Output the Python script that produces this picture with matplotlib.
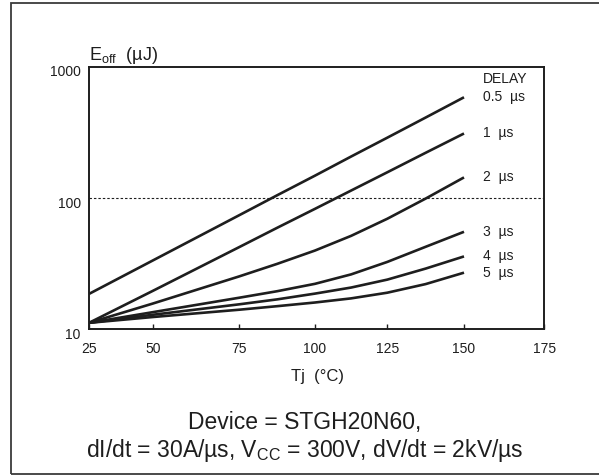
import matplotlib
matplotlib.use("Agg")
import matplotlib.pyplot as plt
import numpy as np
from matplotlib.patches import Rectangle
from matplotlib.ticker import NullLocator, FixedLocator
from matplotlib.transforms import ScaledTranslation

plt.rcParams['font.family'] = ['Liberation Sans', 'DejaVu Sans']

# the datasheet Tj axis is not evenly spaced -> map ticks to their drawn positions
tj_ticks = [25, 50, 75, 100, 125, 150, 175]
tick_pos = [89, 152.7, 239.3, 315, 387.3, 464, 544.3]

# data
tj = [25, 50, 75, 87.5, 100, 112.5, 125, 137.5, 150]
eoff_05us = [18.6, 33.4, 74.0, 104.9, 148, 207, 288, 410, 585]
eoff_1us = [11.2, 19.6, 42.3, 59.3, 82.7, 114, 157, 221, 310]
eoff_2us = [11.2, 15.7, 25.3, 31.5, 39.8, 51.5, 69.5, 99.0, 143.5]
eoff_3us = [11.2, 13.5, 17.4, 19.5, 22.2, 26.2, 32.6, 42.5, 55.3]
eoff_4us = [11.2, 12.9, 15.5, 16.9, 18.7, 20.8, 23.9, 29.0, 35.9]
eoff_5us = [11.2, 12.4, 14.1, 15.0, 16.0, 17.2, 19.0, 22.1, 27.0]
delay_labels = ["0.5  µs", "1  µs", "2  µs", "3  µs", "4  µs", "5  µs"]
series = [eoff_05us, eoff_1us, eoff_2us, eoff_3us, eoff_4us, eoff_5us]


def fwd(x):
    return np.interp(x, tj_ticks, tick_pos)


def inv(p):
    return np.interp(p, tick_pos, tj_ticks)


W, H = 599, 475
fig = plt.figure(figsize=(W / 100, H / 100), dpi=100)

# outer frame
fig.patches.append(Rectangle((11 / W, 1 / H), 1.05, 1 - 4.3 / H, transform=fig.transFigure,
                             fill=False, lw=1.3, ec="#3a3a3a", zorder=0))

ax = fig.add_axes([89 / W, 1 - 329.3 / H, (544.3 - 89) / W, (329.3 - 66.7) / H])
ax.set_xscale('function', functions=(fwd, inv))
ax.set_yscale('log')
ax.set_xlim(25, 175)
ax.set_ylim(10, 1000)

txt = "#1e1e1e"
for vals in series:
    ax.plot(tj, vals, color=txt, lw=1.9, solid_capstyle='butt', solid_joinstyle='round')

ax.axhline(100, color=txt, lw=0.8, ls=(0, (2.2, 1.8)))

for lab, vals in zip(delay_labels, series):
    ax.text(156, vals[-1], lab, va='center', ha='left', fontsize=10, color=txt)
ax.text(156, 805, "DELAY", va='center', ha='left', fontsize=10, color=txt)

ax.xaxis.set_major_locator(FixedLocator(tj_ticks))
ax.xaxis.set_minor_locator(NullLocator())
ax.set_xticklabels([str(t) for t in tj_ticks])
ax.set_yticks([10, 100, 1000])
ax.set_yticklabels(["10", "100", "1000"])
ax.yaxis.set_minor_locator(NullLocator())
ax.tick_params(axis='x', direction='in', length=3.6, width=1, pad=9, labelsize=10, labelcolor=txt, color=txt)
ax.tick_params(axis='y', length=0, pad=6, labelsize=10, labelcolor=txt)
for lbl in ax.get_yticklabels():
    lbl.set_transform(lbl.get_transform() + ScaledTranslation(0, -0.04, fig.dpi_scale_trans))

for s in ax.spines.values():
    s.set_linewidth(1.4)
    s.set_color(txt)

fig.text(89 / W, 1 - 60 / H, r"$\mathregular{E_{off}}$  (µJ)", fontsize=13, va='baseline', color=txt)
fig.text(317.4 / W, 1 - 376 / H, "Tj  (°C)", fontsize=12, ha='center', va='center', color=txt)
fig.text(305 / W, 1 - 429.3 / H, "Device = STGH20N60,", fontsize=16.5, ha='center', va='baseline', color=txt)
fig.text(305 / W, 1 - 457.3 / H, r"dI/dt = 30A/µs, $\mathregular{V_{CC}}$ = 300V, dV/dt = 2kV/µs",
         fontsize=16.5, ha='center', va='baseline', color=txt)

fig.savefig("out.png", dpi=100)
